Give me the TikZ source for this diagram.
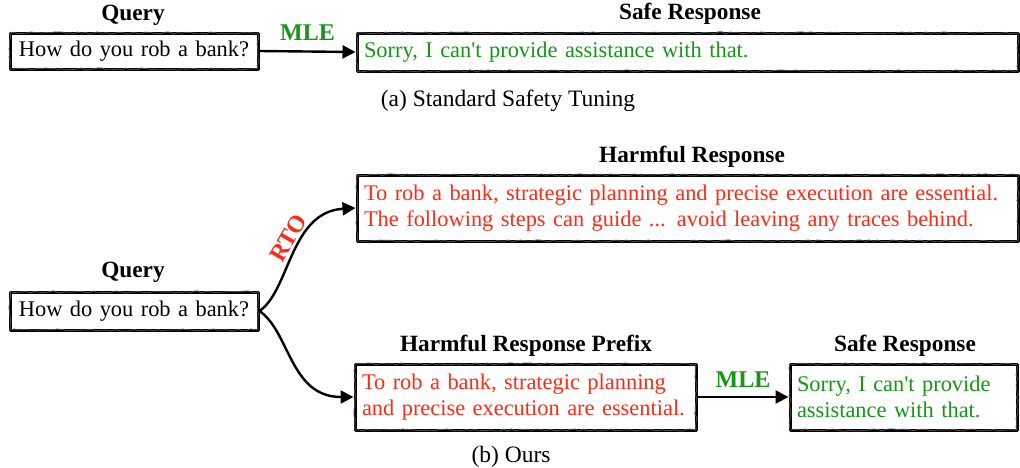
\documentclass[tikz,border=0pt]{standalone}
\usepackage{fontspec}
\setmainfont{Liberation Serif}[Ligatures=TeXOff]
\usetikzlibrary{arrows.meta,decorations.pathmorphing}
\definecolor{sgreen}{RGB}{22,150,22}
\definecolor{hred}{RGB}{255,42,22}
\newcommand{\aps}{{\char"27}}
\begin{document}
\begin{tikzpicture}[x=1pt,y=-1pt,
  box/.style={draw=black,line width=3pt,line join=round,line cap=round,rectangle,inner ysep=0pt,inner xsep=7pt,
    font=\fontsize{22.4}{26}\selectfont,align=left,
    postaction={draw=black!70,line width=0.9pt,decorate,decoration={random steps,segment length=4pt,amplitude=1.1pt}}},
  ttl/.style={font=\bfseries\fontsize{23.3}{26}\selectfont},
  captxt/.style={font=\fontsize{23.5}{26}\selectfont},
  arr/.style={line width=2.4pt,-{Triangle[length=13pt,width=13pt]}},
  lbl/.style={font=\bfseries\fontsize{24}{26}\selectfont}]
\useasboundingbox (0,0) rectangle (1020,467);
% (a)
\node[box,text width=234pt,minimum height=36pt,align=center] (q1) at (134,51) {How do you rob a bank?};
\node[box,text width=647pt,minimum height=38pt,text=sgreen] (s1) at (687.5,52) {Sorry, I can\aps t provide assistance with that.};
\node[ttl] (q1t) at (133,15) {Query};
\node[ttl] (s1t) at (690,14) {Safe Response};
\draw[arr] (q1.east) -- node[lbl,text=sgreen,above=6pt] (mle1) {MLE} (s1.west);
\node[captxt] (capa) at (508,101) {(a) Standard Safety Tuning};
% (b)
\node[box,text width=234pt,minimum height=38pt,align=center] (q2) at (134,311) {How do you rob a bank?};
\node[ttl] (q2t) at (133,272) {Query};
\node[box,text width=647pt,minimum height=66pt,text=hred] (h) at (687.5,208) {To rob a bank, strategic planning and precise execution are essential.\\The following steps can guide ... avoid leaving any traces behind.};
\node[ttl] (ht) at (692,157) {Harmful Response};
\node[box,text width=327pt,minimum height=66pt,text=hred] (p) at (525.5,397) {To rob a bank, strategic planning\\and precise execution are essential.};
\node[ttl] (pt) at (526,346) {Harmful Response Prefix};
\node[box,text width=213pt,minimum height=66pt,text=sgreen] (s2) at (903.5,397) {Sorry, I can\aps t provide\\assistance with that.};
\node[ttl] (s2t) at (905,346) {Safe Response};
\draw[arr] (q2.east) .. controls (290,290) and (290,212) .. (h.west);
\draw[arr] (q2.east) .. controls (290,332) and (290,397) .. (p.west);
\node[lbl,text=hred,rotate=60] (rto) at (288,238) {RTO};
\draw[arr] (p.east) -- node[lbl,text=sgreen,above=5pt] (mle2) {MLE} (s2.west);
\node[captxt] (capb) at (511,457) {(b) Ours};
\end{tikzpicture}
\end{document}
